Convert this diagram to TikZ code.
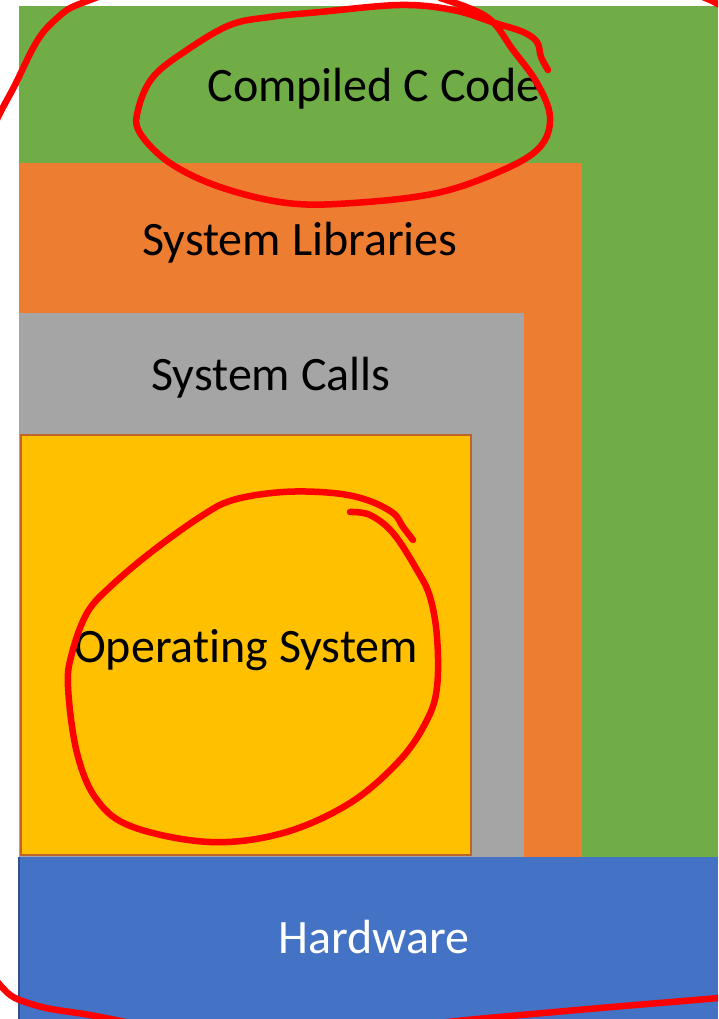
\documentclass[tikz,border=0pt]{standalone}
\usepackage{fontspec}
\setmainfont[Ligatures={NoCommon,NoContextual}, Contextuals=NoAlternate]{Carlito}
\usepackage{tikz}
\usetikzlibrary{calc,positioning}
\definecolor{leaf}{RGB}{112,173,71}
\definecolor{tangerine}{RGB}{237,125,49}
\definecolor{ash}{RGB}{165,165,165}
\definecolor{gold}{RGB}{255,192,0}
\definecolor{rust}{RGB}{190,100,40}
\definecolor{royal}{RGB}{68,114,196}
\definecolor{cobalt}{RGB}{47,82,143}
\definecolor{inkred}{RGB}{255,0,0}

\begin{document}
\begin{tikzpicture}[x=1pt, y=-1pt,
			layerStyle/.style={inner sep=0pt, outer sep=0pt, anchor=north west},
			labelStyle/.style={font=\fontsize{48}{57}\selectfont, anchor=base, inner sep=0pt},
			inkStyle/.style={draw=inkred, line width=6.5pt, line cap=round, line join=round},]
			
			\useasboundingbox (0,0) rectangle (718,1019);
			
			\begin{scope}
				\clip (0,0) rectangle (718,1019);
				
				% layers, outermost first
				\node[layerStyle, fill=leaf, minimum width=699pt, minimum height=851pt] (ccode) at (19,6) {};
				\node[layerStyle, fill=tangerine, minimum width=563pt, minimum height=694pt] (syslib) at (19,163) {};
				\node[layerStyle, fill=ash, minimum width=505pt, minimum height=544pt] (syscall) at (19,313) {};
				\node[layerStyle, fill=gold, draw=rust, line width=2pt, minimum width=450pt, minimum height=420pt] (kernel) at (21,435) {};
				\node[layerStyle, fill=royal, minimum width=699pt, minimum height=170pt] (hardware) at (19,857) {};
				\draw[cobalt, line width=1.5pt] (hardware.north west) -- (hardware.south west);
				
				% labels
				\node[labelStyle] (ccodeText) at (374,102) {Compiled C Code};
				\node[labelStyle] (syslibText) at (300,255) {System Libraries};
				\node[labelStyle] (syscallText) at (271,390) {System Calls};
				\node[labelStyle] (kernelText) at (246,662) {Operat\kern0pt ing System};
				\node[labelStyle, text=white] (hardwareText) at (374,953) {Hardware};
				
				% hand drawn marks
				\draw[inkStyle] plot[smooth, tension=0.6] coordinates {(440,-2) (487,17) (513,50) (537,83) (550,117) (540,147) (503,170) (437,193) (353,203) (287,203) (220,187) (170,163) (140,133) (138,110) (153,77) (187,50) (230,25) (270,17) (320,12) (400,5) (453,10) (495,23) (523,32) (537,42) (541,57) (548,70)};
				
				\draw[inkStyle] plot[smooth, tension=0.6] coordinates {(350,512) (370,515) (393,533) (417,570) (430,597) (437,637) (437,687) (427,720) (400,760) (350,803) (283,833) (210,842) (133,827) (97,800) (77,753) (68,687) (72,653) (87,613) (110,587) (150,553) (200,517) (233,500) (283,492) (333,493) (367,500) (393,513) (403,527) (413,540)};
				
				\draw[inkStyle] plot[smooth] coordinates {(130,-15) (90,0) (67,10) (45,30) (32,50) (15,85) (0,113) (-10,135)};
				\draw[inkStyle] plot[smooth] coordinates {(-15,965) (0,985) (15,998) (46,1008) (90,1015) (140,1025)};
				\draw[inkStyle] plot[smooth] coordinates {(420,1025) (477,1019) (600,1008) (718,998) (740,995)};
				\draw[inkStyle] plot[smooth] coordinates {(690,-8) (710,0) (725,8)};
			\end{scope}
		\end{tikzpicture}
\end{document}
